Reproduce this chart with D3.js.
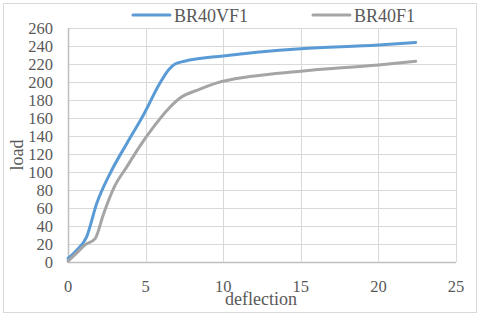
<!DOCTYPE html>
<html>
<head>
<meta charset="utf-8">
<script src="https://cdn.jsdelivr.net/npm/d3@7"></script>
<style>
  body { margin: 0; background: #fff; }
  svg text { font-family: "Liberation Serif", "Times New Roman", serif; fill: #595959; }
</style>
</head>
<body>
<svg id="chart" width="480" height="315"></svg>
<script>
'use strict';

// series
var seriesNames = ['BR40VF1', 'BR40F1']
var vfDeflection = [0, 0.5, 1.2, 1.85, 2.7, 3.8, 4.85, 5.9, 6.5, 6.9, 7.5, 10, 15, 20, 22.4]
var vfLoad = [4, 12, 28, 65, 98, 132, 163, 198, 214, 220, 223, 229, 237, 241, 244]
var fDeflection = [0, 0.5, 1.1, 1.75, 2.3, 3.0, 3.8, 4.6, 5.6, 6.3, 7.2, 8.5, 9.6, 11.7, 15, 20, 22.4]
var fLoad = [1, 9, 19, 26, 54, 84, 106, 128, 152, 167, 182, 192, 199, 206, 212, 219, 223]
var xTicks = [0, 5, 10, 15, 20, 25]
var yTicks = [0, 20, 40, 60, 80, 100, 120, 140, 160, 180, 200, 220, 240, 260]
var colors = ['#5b9bd5', '#a5a5a5']

var svg = d3.select('#chart')

// outer frame
svg.append('rect')
    .attr('x', 3.5).attr('y', 3.5)
    .attr('width', 473).attr('height', 309)
    .style('fill', 'none')
    .style('stroke', '#d9d9d9')

var x = d3.scaleLinear().domain([0, 25]).range([68, 456])
var y = d3.scaleLinear().domain([0, 260]).range([262, 28])

var grid = svg.append('g').attr('class', 'grid')
grid.selectAll('line.h').data(yTicks).enter().append('line')
    .attr('x1', x(0)).attr('x2', x(25))
    .attr('y1', function(d) { return Math.round(y(d)) + 0.5 })
    .attr('y2', function(d) { return Math.round(y(d)) + 0.5 })
    .style('stroke', function(d) { return d === 0 ? '#bfbfbf' : '#d9d9d9' })
    .style('stroke-width', function(d) { return d === 0 ? 1.5 : 1 })
grid.selectAll('line.v').data(xTicks).enter().append('line')
    .attr('y1', y(0)).attr('y2', y(260))
    .attr('x1', function(d) { return Math.round(x(d)) + 0.5 })
    .attr('x2', function(d) { return Math.round(x(d)) + 0.5 })
    .style('stroke', function(d) { return d === 0 ? '#bfbfbf' : '#d9d9d9' })
    .style('stroke-width', function(d) { return d === 0 ? 1.5 : 1 })

// tick labels
svg.selectAll('text.ytick').data(yTicks).enter().append('text')
    .attr('class', 'ytick')
    .attr('x', 53)
    .attr('y', function(d) { return y(d) + 5.5 })
    .attr('text-anchor', 'end')
    .style('font-size', '16.5px')
    .text(function(d) { return d })
svg.selectAll('text.xtick').data(xTicks).enter().append('text')
    .attr('class', 'xtick')
    .attr('x', function(d) { return x(d) })
    .attr('y', 292)
    .attr('text-anchor', 'middle')
    .style('font-size', '16.5px')
    .text(function(d) { return d })

// axis titles
svg.append('text')
    .attr('transform', 'translate(23,155) rotate(-90)')
    .attr('text-anchor', 'middle')
    .style('font-size', '18px')
    .text('load')
svg.append('text')
    .attr('x', 261).attr('y', 305)
    .attr('text-anchor', 'middle')
    .style('font-size', '18px')
    .text('deflection')

// curves
var line = d3.line()
    .x(function(d) { return x(d[0]) })
    .y(function(d) { return y(d[1]) })
    .curve(d3.curveMonotoneX)

var series = [
    d3.zip(vfDeflection, vfLoad),
    d3.zip(fDeflection, fLoad)
]
svg.selectAll('path.series').data(series).enter().append('path')
    .attr('class', 'series')
    .attr('d', line)
    .style('fill', 'none')
    .style('stroke', function(d, i) { return colors[i] })
    .style('stroke-width', 3)
    .style('stroke-linecap', 'round')

// legend
var legendX = [133, 313]
var lg = svg.selectAll('g.legend').data(seriesNames).enter().append('g')
    .attr('class', 'legend')
    .attr('transform', function(d, i) { return 'translate(' + legendX[i] + ',15)' })
lg.append('line')
    .attr('x1', 0).attr('x2', 37)
    .attr('y1', 0).attr('y2', 0)
    .style('stroke', function(d, i) { return colors[i] })
    .style('stroke-width', 3)
    .style('stroke-linecap', 'round')
lg.append('text')
    .attr('x', 41).attr('y', 7)
    .style('font-size', '18px')
    .text(function(d) { return d })
</script>
</body>
</html>
